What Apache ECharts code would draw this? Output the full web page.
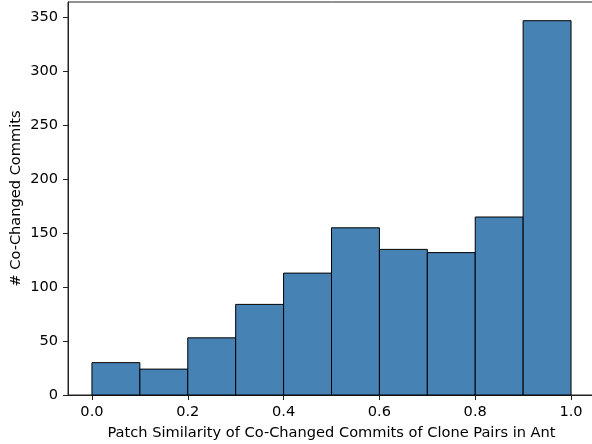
<!DOCTYPE html>
<html>
<head>
<meta charset="utf-8">
<script src="https://cdn.jsdelivr.net/npm/echarts@6/dist/echarts.min.js"></script>
<style>
html,body{margin:0;padding:0;background:#fff;overflow:hidden;width:592px;height:444px;}
#chart{width:597px;height:444px;}
</style>
</head>
<body>
<div id="chart"></div>
<script>
// Histogram bin edges and counts
var binEdges = [0.0, 0.1, 0.2, 0.3, 0.4, 0.5, 0.6, 0.7, 0.8, 0.9, 1.0];
var counts = [30, 24, 53, 84, 113, 155, 135, 132, 165, 347];
var xTicks = [0.0, 0.2, 0.4, 0.6, 0.8, 1.0];
var yTicks = [0, 50, 100, 150, 200, 250, 300, 350];
var xLabel = 'Patch Similarity of Co-Changed Commits of Clone Pairs in Ant';
var yLabel = '# Co-Changed Commits';

var barData = counts.map(function (c, i) { return [binEdges[i], binEdges[i + 1], c]; });

var font = 'DejaVu Sans';
var fs = 14.6;
var chart = echarts.init(document.getElementById('chart'));
chart.setOption({
  animation: false,
  backgroundColor: '#fff',
  grid: {
    left: 68, top: 2, width: 527, bottom: 49,
    outerBoundsMode: 'none',
    containLabel: false,
    show: true, borderColor: '#222', borderWidth: 1, backgroundColor: 'transparent'
  },
  xAxis: {
    type: 'value',
    min: -0.05, max: 1.05,
    name: xLabel,
    nameLocation: 'middle',
    nameGap: 31,
    nameMoveOverlap: false,
    nameTextStyle: { fontFamily: font, fontSize: fs, color: '#000' },
    splitLine: { show: false },
    axisLine: { show: true, onZero: false, lineStyle: { color: '#222', width: 1 } },
    axisTick: { show: true, length: 5, lineStyle: { color: '#222', width: 1 }, customValues: xTicks },
    axisLabel: {
      fontFamily: font, fontSize: fs, color: '#000', margin: 9.5,
      customValues: xTicks,
      formatter: function (v) { return v.toFixed(1); }
    }
  },
  yAxis: {
    type: 'value',
    min: 0, max: 364.35,
    name: yLabel,
    nameLocation: 'middle',
    nameRotate: 90,
    nameGap: 44,
    nameMoveOverlap: false,
    nameTextStyle: { fontFamily: font, fontSize: fs, color: '#000' },
    splitLine: { show: false },
    axisLine: { show: true, onZero: false, lineStyle: { color: '#222', width: 1 } },
    axisTick: { show: true, length: 5, lineStyle: { color: '#222', width: 1 }, customValues: yTicks },
    axisLabel: {
      fontFamily: font, fontSize: fs, color: '#000', margin: 10,
      customValues: yTicks
    }
  },
  series: [{
    type: 'custom',
    data: barData,
    encode: { x: [0, 1], y: 2 },
    renderItem: function (params, api) {
      var p0 = api.coord([api.value(0), api.value(2)]);
      var p1 = api.coord([api.value(1), 0]);
      return {
        type: 'rect',
        shape: { x: p0[0], y: p0[1], width: p1[0] - p0[0], height: p1[1] - p0[1] },
        style: { fill: '#4682b4', stroke: '#000', lineWidth: 1 }
      };
    }
  }]
});
</script>
</body>
</html>
